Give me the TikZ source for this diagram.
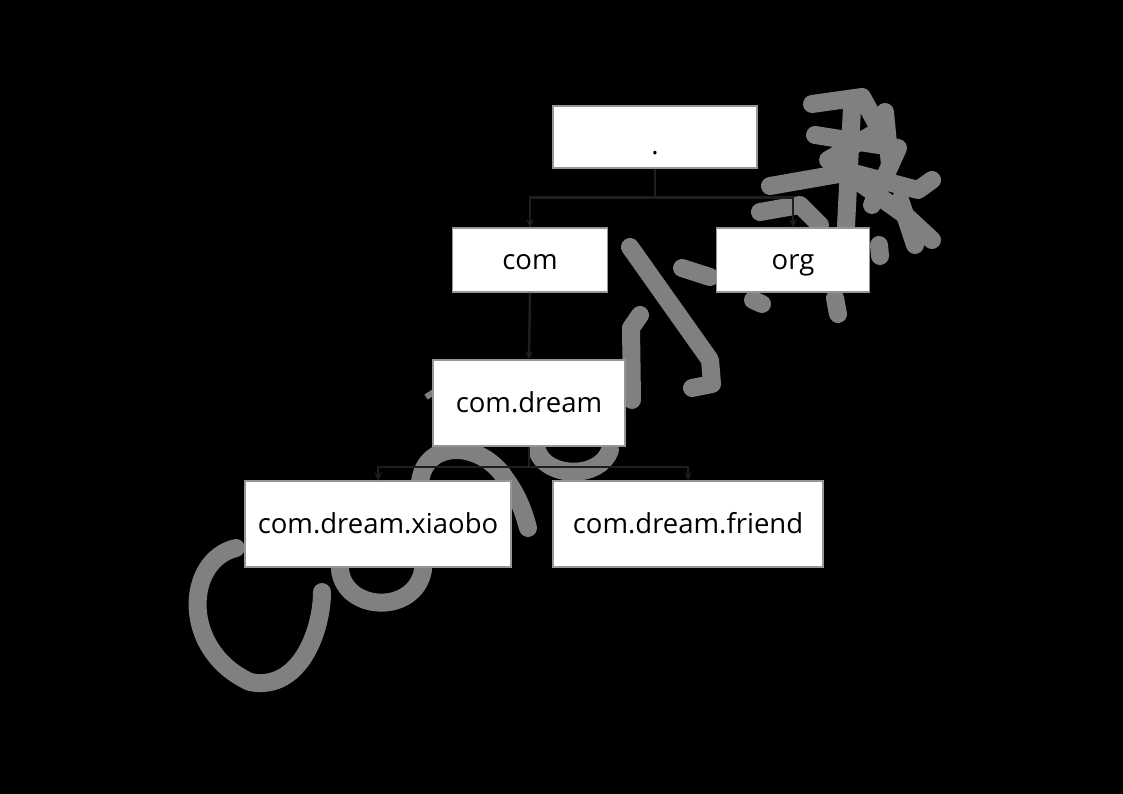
\documentclass[tikz,border=0pt]{standalone}
\usepackage{fontspec}
\setmainfont{Open Sans}
\usepackage{xcolor}
\usetikzlibrary{positioning}
\definecolor{linkgray}{RGB}{30,30,30}
\definecolor{scribble}{RGB}{128,128,128}
\definecolor{framegray}{RGB}{150,150,150}

\begin{document}
\begin{tikzpicture}[x=1pt,y=-1pt,>=stealth,
  pkg/.style={draw=framegray, line width=1.5pt, fill=white, inner sep=0pt,
    font=\fontsize{27.5}{32}\selectfont, text height=19pt, text depth=0pt},
  link/.style={linkgray, line width=2.5pt},
  doodle/.style={scribble, line width=18pt, line cap=round, line join=round}]
\fill[black] (0,0) rectangle (1123,794);
% grey doodles
\draw[doodle] (630,247) -- (710,360) -- (712,384) -- (692,388);
\draw[doodle] (640,315) -- (631,328) -- (632,400);
\draw[doodle] (682,268) -- (710,277);
\draw[doodle] (812,104) -- (862,97) -- (880,130) -- (828,160) -- (905,215) -- (932,240);
\draw[doodle] (770,186) -- (850,172) -- (918,190) -- (932,180);
\draw[doodle] (852,108) -- (846,226);
\draw[doodle] (815,135) -- (898,148) -- (872,205);
\draw[doodle] (885,112) -- (890,165);
\draw[doodle] (760,212) -- (800,205) -- (820,225);
\draw[doodle] (900,200) -- (915,245);
\draw[doodle] (753,300) -- (762,304);
\draw[doodle] (835,298) -- (838,314);
\draw[doodle] (879,245) -- (880,256);
\draw[doodle] (236,548) .. controls (185,560) and (180,650) .. (250,682)
  .. controls (300,692) and (322,630) .. (322,592);
\draw[doodle] (340,570) .. controls (345,612) and (415,615) .. (423,570);
\draw[doodle] (420,482) .. controls (425,440) and (480,440) .. (505,478)
  .. controls (515,492) and (522,505) .. (528,528);
\draw[doodle] (537,450) .. controls (545,478) and (600,480) .. (610,450);
\draw[scribble, line width=6pt] (434,392) -- (426,397);
% package boxes
\node[pkg, minimum width=204pt, minimum height=62pt] (root) at (655,137) {\raisebox{-8pt}{.}};
\node[pkg, minimum width=155pt, minimum height=64pt] (com) at (530,260) {com};
\node[pkg, minimum width=153pt, minimum height=64pt] (org) at (793,260) {org};
\node[pkg, minimum width=192pt, minimum height=86pt] (dream) at (529,403) {com.dream};
\node[pkg, minimum width=266pt, minimum height=86pt] (xiaobo) at (378,524) {com.dream.xiaobo};
\node[pkg, minimum width=270pt, minimum height=86pt] (friend) at (688,524) {com.dream.friend};
% links
\draw[link][->] (root.south) -- ++(0,29) -| (com.north);
\draw[link][->] (root.south) -- ++(0,29) -| (org.north);
\draw[link][->] (com.south) -- (dream.north);
\draw[link][->] (dream.south) -- ++(0,20) -| (xiaobo.north);
\draw[link][->] (dream.south) -- ++(0,20) -| (friend.north);
\end{tikzpicture}
\end{document}
